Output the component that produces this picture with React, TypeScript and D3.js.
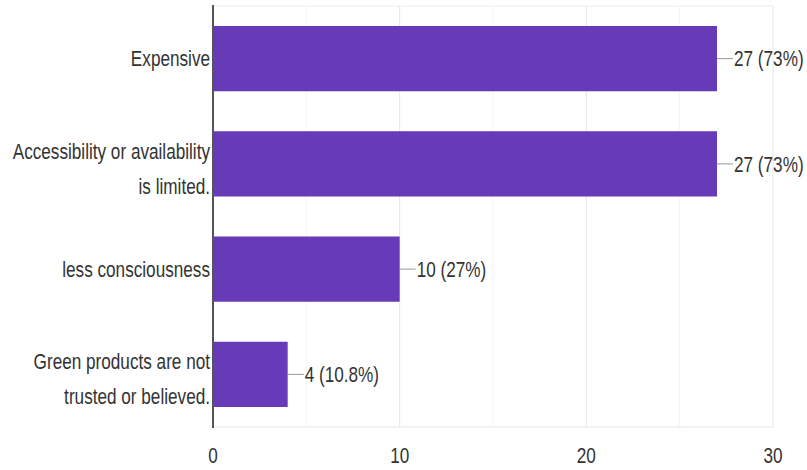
import React from "react";
import * as d3 from "d3";

const categories: string[][] = [
  ["Expensive"],
  ["Accessibility or availability", "is limited."],
  ["less consciousness"],
  ["Green products are not", "trusted or believed."],
];
const counts: number[] = [27, 27, 10, 4];
const percents: string[] = ["73%", "73%", "27%", "10.8%"];
const majorTicks: number[] = [0, 10, 20, 30];
const minorTicks: number[] = [5, 15, 25];

const W = 807;
const H = 470;
const SX = 0.78;
const FONT = "'Liberation Sans', Arial, sans-serif";

export default function App() {
  const x = d3.scaleLinear().domain([0, 30]).range([213, 773]);
  const keys = categories.map((c) => c.join(" "));
  const y = d3
    .scaleBand<string>()
    .domain(keys)
    .range([6, 427])
    .paddingInner(0.38)
    .paddingOuter(0.19);
  const bw = y.bandwidth();

  const txt = (
    key: string,
    tx: number,
    ty: number,
    s: string,
    anchor: "start" | "middle" | "end",
    size = 22
  ) => (
    <text
      key={key}
      transform={`translate(${tx},${ty}) scale(${SX},1)`}
      textAnchor={anchor}
      dominantBaseline="central"
      fontFamily={FONT}
      fontSize={size}
      fill="#333"
    >
      {s}
    </text>
  );

  return (
    <svg
      width={W}
      height={H}
      style={{ position: "absolute", left: 0, top: 0, background: "#fff" }}
    >
      {/* minor gridlines */}
      {minorTicks.map((t) => (
        <line key={"mn" + t} x1={x(t)} x2={x(t)} y1={6} y2={427} stroke="#f4f4f4" strokeWidth={1} />
      ))}
      {/* major gridlines */}
      {majorTicks.map((t) => (
        <line key={"mj" + t} x1={x(t)} x2={x(t)} y1={6} y2={427} stroke="#e6e6e6" strokeWidth={1} />
      ))}
      <line x1={x(0)} x2={x(30)} y1={6} y2={6} stroke="#ececec" strokeWidth={1} />
      <line x1={x(0)} x2={x(30)} y1={427} y2={427} stroke="#e6e6e6" strokeWidth={1} />

      {/* bars */}
      {keys.map((k, i) => (
        <rect key={"b" + k} x={x(0)} y={y(k)} width={x(counts[i]) - x(0)} height={bw} fill="#673ab7" />
      ))}

      {/* value labels */}
      {keys.map((k, i) => {
        const cy = (y(k) as number) + bw / 2;
        const xe = x(counts[i]);
        return (
          <g key={"v" + k}>
            <line x1={xe} x2={xe + 16} y1={cy} y2={cy} stroke="#999" strokeWidth={1} />
            {txt("vt" + k, xe + 17, cy, `${counts[i]} (${percents[i]})`, "start")}
          </g>
        );
      })}

      {/* axis line */}
      <line x1={x(0)} x2={x(0)} y1={5} y2={428} stroke="#555" strokeWidth={2} />

      {/* category labels */}
      {categories.map((c, i) => {
        const cy = (y(keys[i]) as number) + bw / 2;
        if (c.length === 1) return txt("c" + i, 210, cy, c[0], "end");
        return (
          <g key={"c" + i}>
            {txt("c" + i + "a", 210, cy - 13, c[0], "end")}
            {txt("c" + i + "b", 210, cy + 22, c[1], "end")}
          </g>
        );
      })}

      {/* tick labels */}
      {majorTicks.map((t) => txt("t" + t, x(t), 455, String(t), "middle"))}
    </svg>
  );
}
